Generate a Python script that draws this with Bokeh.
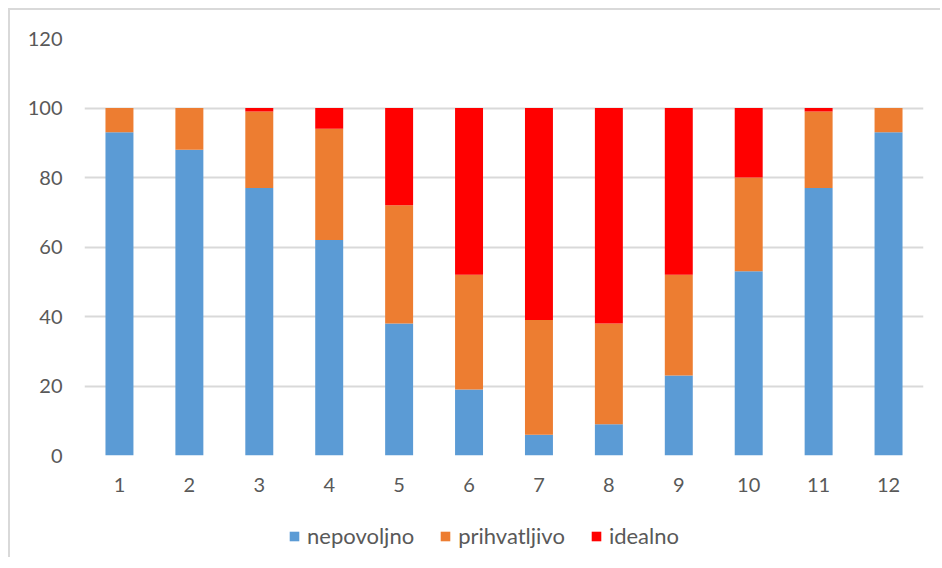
from bokeh.plotting import figure
from bokeh.layouts import column
from bokeh.models import Legend, LegendItem, FactorRange, Range1d
from bokeh.embed import file_html
from bokeh.resources import INLINE

categories = [str(i) for i in range(1, 13)]
nepovoljno = [93, 88, 77, 62, 38, 19, 6, 9, 23, 53, 77, 93]
prihvatljivo = [7, 12, 22, 32, 34, 33, 33, 29, 29, 27, 22, 7]
idealno = [0, 0, 1, 6, 28, 48, 61, 62, 48, 20, 1, 0]
series = ["nepovoljno", "prihvatljivo", "idealno"]
colors = ["#5B9BD5", "#ED7D31", "#FF0000"]
y_ticks = [0, 20, 40, 60, 80, 100, 120]

FONT = "Lato"
TXT = "#595959"

data = {"cat": categories, "nepovoljno": nepovoljno,
        "prihvatljivo": prihvatljivo, "idealno": idealno}

p = figure(x_range=FactorRange(*categories, range_padding=0),
           y_range=Range1d(0, 120),
           width=930, height=495, output_backend="svg", toolbar_location=None,
           min_border_left=74, min_border_right=17, min_border_top=28,
           min_border_bottom=50)

renderers = p.vbar_stack(series, x="cat", width=0.4, source=data,
                         color=colors, line_color=None)

p.outline_line_color = None
p.background_fill_color = "white"
p.border_fill_color = "white"

p.xgrid.grid_line_color = None
p.ygrid.grid_line_color = "#d9d9d9"
p.ygrid.grid_line_width = 2
p.yaxis.ticker = y_ticks

for ax in (p.xaxis[0], p.yaxis[0]):
    ax.axis_line_color = None
    ax.major_tick_line_color = None
    ax.minor_tick_line_color = None
    ax.major_tick_out = 0
    ax.major_tick_in = 0
    ax.minor_tick_out = 0
    ax.major_label_text_font = FONT
    ax.major_label_text_font_size = "20px"
    ax.major_label_text_color = TXT
p.xaxis.major_label_standoff = 22
p.yaxis.major_label_standoff = 22

# legend strip below the chart (same frame geometry as the main plot)
p2 = figure(x_range=Range1d(0, 1), y_range=Range1d(0, 1),
            x_axis_location=None, y_axis_location=None,
            width=930, height=52, output_backend="svg", toolbar_location=None,
            min_border_left=74, min_border_right=17,
            min_border_top=0, min_border_bottom=0)
p2.grid.visible = False
p2.outline_line_color = None
p2.border_fill_color = "white"
p2.background_fill_color = "white"
leg_renderers = []
for c in colors:
    r = p2.vbar(x=[-10], top=[-10], width=0.01, color=c, line_color=None)
    leg_renderers.append(r)

legend = Legend(items=[LegendItem(label=s, renderers=[r]) for s, r in zip(series, leg_renderers)],
                orientation="horizontal", location=(204, 8),
                glyph_width=12, glyph_height=12, label_standoff=7, spacing=25,
                label_text_font=FONT, label_text_font_size="22px",
                label_text_color=TXT, border_line_color=None,
                background_fill_alpha=0, padding=0, margin=0)
p2.add_layout(legend, "center")

layout = column(p, p2, spacing=0)
layout.styles = {"margin-left": "8px", "margin-top": "8px",
                 "border-left": "2px solid #d9d9d9", "border-top": "2px solid #d9d9d9"}

open("out.html", "w").write(file_html(layout, INLINE))
